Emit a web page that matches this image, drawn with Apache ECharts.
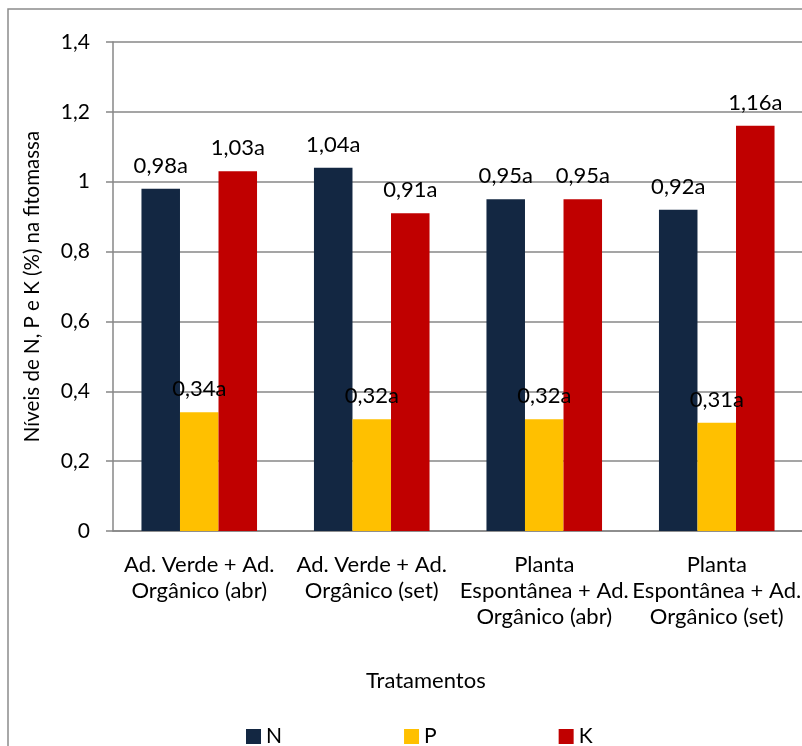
<!DOCTYPE html>
<html>
<head>
<meta charset="utf-8">
<script src="https://cdn.jsdelivr.net/npm/echarts@6/dist/echarts.min.js"></script>
<style>
  html, body { margin: 0; padding: 0; background: #fff; }
  #chart { width: 802px; height: 746px; }
</style>
</head>
<body>
<div id="chart"></div>
<script>
// Treatments (category axis)
const categories = [
  'Ad. Verde + Ad.\nOrgânico (abr)',
  'Ad. Verde + Ad.\nOrgânico (set)',
  'Planta\nEspontânea + Ad.\nOrgânico (abr)',
  'Planta\nEspontânea + Ad.\nOrgânico (set)'
];
// Nutrient levels (%) in the phytomass
const valuesN = [0.98, 1.04, 0.95, 0.92];
const valuesP = [0.34, 0.32, 0.32, 0.31];
const valuesK = [1.03, 0.91, 0.95, 1.16];
// Statistical grouping letters shown after each value
const lettersN = ['a', 'a', 'a', 'a'];
const lettersP = ['a', 'a', 'a', 'a'];
const lettersK = ['a', 'a', 'a', 'a'];
// Y axis ticks
const yTicks = [0, 0.2, 0.4, 0.6, 0.8, 1, 1.2, 1.4];

const FONT = 'Lato';
const GRAY = '#878787';

function fmt(v) {
  return String(v).replace('.', ',');
}

function makeSeries(name, data, letters, color) {
  return {
    name: name,
    type: 'bar',
    data: data,
    barGap: '0%',
    barCategoryGap: '33%',
    itemStyle: { color: color },
    label: {
      show: true,
      position: 'top',
      distance: 12,
      color: '#000',
      fontFamily: FONT,
      fontSize: 22,
      formatter: p => fmt(p.value) + letters[p.dataIndex]
    }
  };
}

const chart = echarts.init(document.getElementById('chart'), null, { renderer: 'canvas' });
chart.setOption({
  animation: false,
  backgroundColor: '#fff',
  textStyle: { fontFamily: FONT, color: '#000' },
  grid: { left: 113, top: 42, width: 690, height: 489, containLabel: false, outerBoundsMode: 'none' },
  xAxis: {
    type: 'category',
    data: categories,
    axisLine: { show: true, lineStyle: { color: GRAY, width: 1.5 } },
    axisTick: { show: false },
    axisLabel: {
      interval: 0,
      margin: 21,
      color: '#000',
      fontFamily: FONT,
      fontSize: 22,
      lineHeight: 26
    }
  },
  yAxis: {
    type: 'value',
    min: yTicks[0],
    max: yTicks[yTicks.length - 1],
    interval: 0.2,
    name: 'Níveis de N, P e K (%) na fitomassa',
    nameLocation: 'middle',
    nameGap: 70,
    nameTextStyle: { fontFamily: FONT, fontSize: 20.5, color: '#000' },
    axisLine: { show: true, lineStyle: { color: GRAY, width: 1.5 } },
    axisTick: { show: true, length: 7, lineStyle: { color: GRAY, width: 1.5 } },
    splitLine: { show: true, lineStyle: { color: GRAY, width: 1.5 } },
    axisLabel: {
      margin: 23,
      color: '#000',
      fontFamily: FONT,
      fontSize: 21,
      formatter: v => fmt(Math.round(v * 10) / 10)
    }
  },
  legend: {
    left: 241,
    top: 721,
    icon: 'rect',
    itemWidth: 15,
    itemHeight: 15,
    itemGap: 122,
    textStyle: { fontFamily: FONT, fontSize: 21, color: '#000', width: 18 },
    data: ['N', 'P', 'K']
  },
  graphic: [
    {
      type: 'rect',
      shape: { x: 8, y: 9, width: 1000, height: 1000 },
      style: { fill: 'none', stroke: '#8c8c8c', lineWidth: 1.5 },
      silent: true
    },
    {
      type: 'text',
      left: 366,
      top: 670,
      style: { text: 'Tratamentos', fontFamily: FONT, fontSize: 22, fill: '#000' }
    }
  ],
  series: [
    makeSeries('N', valuesN, lettersN, '#132742'),
    makeSeries('P', valuesP, lettersP, '#FFC000'),
    makeSeries('K', valuesK, lettersK, '#C00000')
  ]
});
</script>
</body>
</html>
